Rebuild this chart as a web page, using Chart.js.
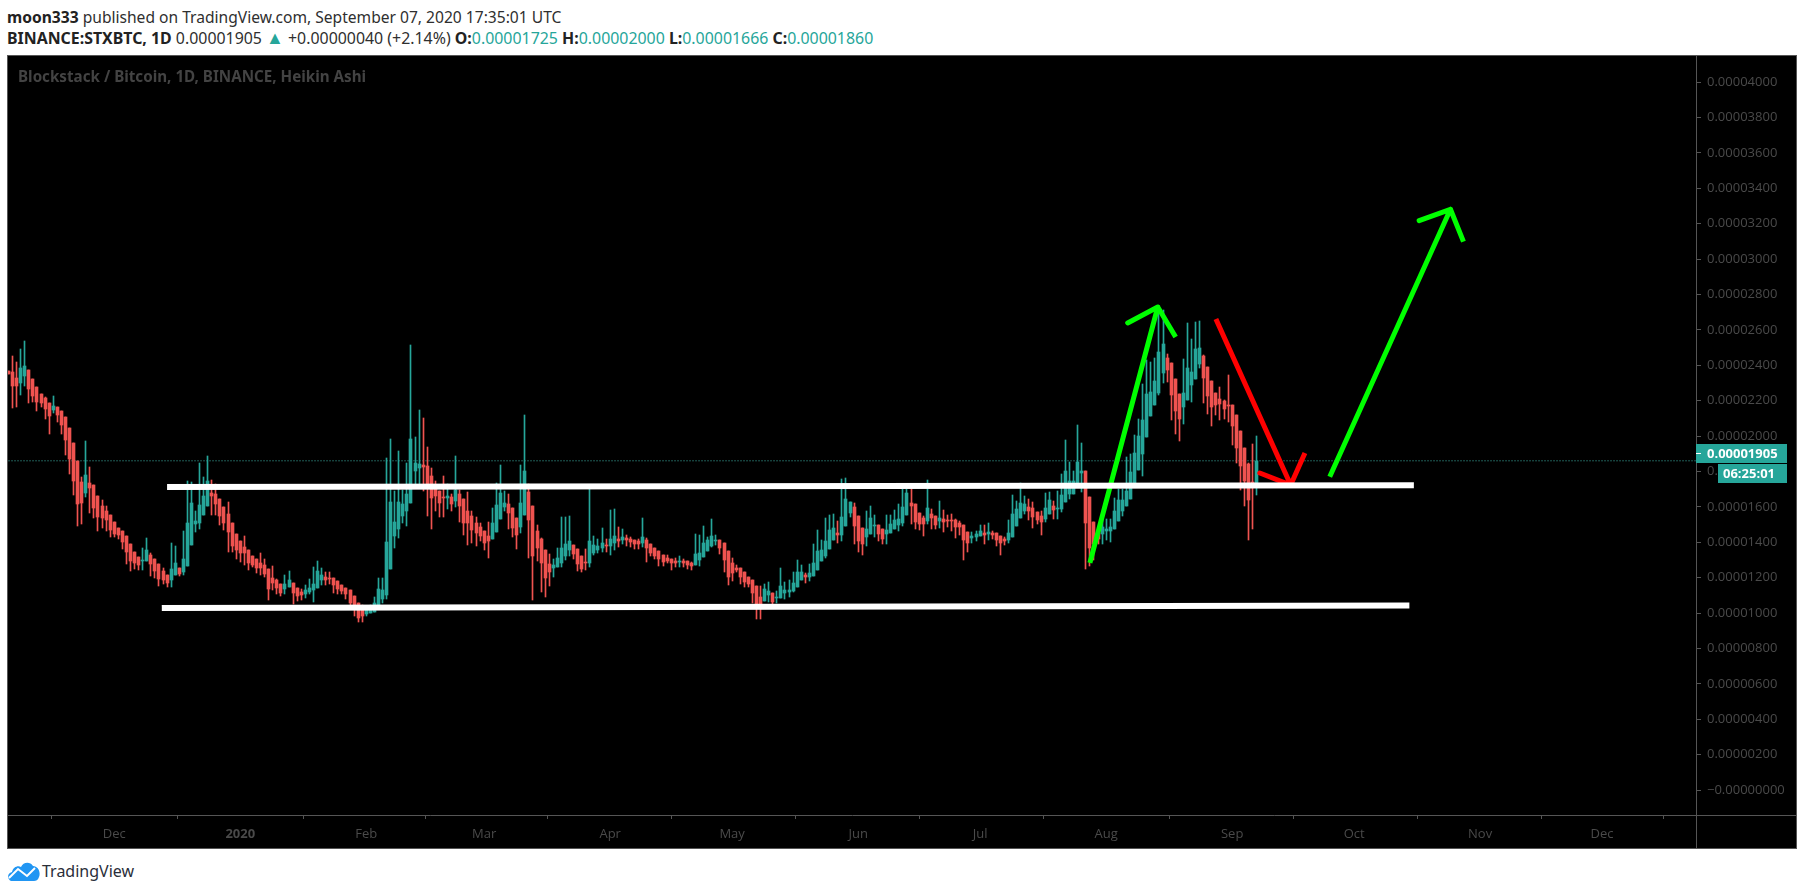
<!DOCTYPE html>
<html>
<head>
<meta charset="utf-8">
<script src="https://cdn.jsdelivr.net/npm/chart.js@4/dist/chart.umd.js"></script>
<style>
  html, body { margin: 0; padding: 0; background: #fff; width: 1805px; height: 895px; overflow: hidden; }
  body { font-family: "Noto Sans", sans-serif; color: #2f2f2f; position: relative; }
  .line { position: absolute; left: 7px; line-height: 20px; white-space: nowrap; }
  .line b { font-weight: 700; color: #222; }
  .up { color: #26a69a; }
  .tri { color: #26a69a; font-size: 18px; line-height: 16px; }
  #panel { position: absolute; left: 7px; top: 55px; width: 1788px; height: 792px; border: 1px solid #555; background: #000; }
  #watermark { position: absolute; left: 18px; top: 66px; font: bold 15.2px "Noto Sans", sans-serif; color: #434343; white-space: nowrap; }
  #brand { position: absolute; left: 42px; top: 859px; font-size: 16px; line-height: 24px; color: #2a2e39; }
  #logo { position: absolute; left: 8px; top: 862px; }
</style>
</head>
<body>
<div class="line" style="top:7px;font-size:15.6px"><b>moon333</b> published on TradingView.com, September 07, 2020 17:35:01 UTC</div>
<div class="line" style="top:28px;font-size:15.9px"><b>BINANCE:STXBTC, 1D</b> 0.00001905 <span class="tri">▲</span> +0.00000040 (+2.14%) <b>O:</b><span class="up">0.00001725</span> <b>H:</b><span class="up">0.00002000</span> <b>L:</b><span class="up">0.00001666</span> <b>C:</b><span class="up">0.00001860</span></div>
<div id="panel"><canvas id="chart" width="1788" height="792"></canvas></div>
<div id="watermark">Blockstack / Bitcoin, 1D, BINANCE, Heikin Ashi</div>
<svg id="logo" width="32" height="19" viewBox="0 0 32 19">
  <path d="M3 19C-1 17-1 11 4 10 5 5 10 3 13 5 15 0 22-1 25 4 30 4 33 10 31 15 30 18 28 19 26 19Z" fill="#2196f3"/>
  <polyline points="1,16 10,7 19,14 27,6" fill="none" stroke="#fff" stroke-width="2"/>
</svg>
<div id="brand">TradingView</div>

<script>
// prices are in units of 0.00000001 BTC, days are counted from 1 Jan 2020
const firstDay = -57;

const opens = [
  2367,2361,2327,2299,2339,2373,2322,2277,2237,2214,2186,2147,2164,2141,2107,2045,1960,1858,1740,1678,
  1734,1723,1661,1604,1576,1553,1514,1480,1463,1435,1390,1344,1316,1294,1294,1327,1305,1277,1237,1214,
  1186,1214,1254,1231,1265,1384,1503,1508,1553,1604,1678,1672,1644,1599,1559,1508,1446,1407,1373,1356,
  1322,1305,1282,1271,1248,1198,1186,1164,1135,1147,1169,1141,1118,1107,1118,1130,1141,1186,1203,1198,
  1198,1181,1158,1141,1130,1096,1056,1034,994,1000,1005,1034,1079,1102,1248,1435,1474,1548,1576,1621,
  1802,1819,1836,1830,1774,1717,1689,1655,1649,1655,1632,1672,1644,1576,1548,1508,1486,1463,1435,1418,
  1457,1531,1599,1616,1593,1536,1486,1553,1683,1604,1463,1418,1356,1277,1254,1260,1282,1322,1356,1384,
  1361,1322,1288,1282,1339,1356,1367,1384,1378,1395,1418,1412,1424,1418,1412,1407,1395,1412,1390,1367,
  1350,1327,1311,1305,1294,1288,1294,1294,1282,1271,1299,1316,1350,1378,1407,1412,1395,1350,1282,1254,
  1254,1231,1203,1186,1152,1090,1068,1102,1113,1085,1085,1113,1118,1124,1147,1186,1214,1203,1209,1243,
  1294,1322,1361,1412,1452,1440,1491,1565,1599,1548,1480,1429,1446,1491,1497,1474,1446,1452,1474,1497,
  1508,1553,1621,1615,1565,1536,1519,1559,1548,1519,1531,1525,1525,1525,1508,1497,1457,1423,1429,1435,
  1452,1446,1452,1452,1435,1418,1412,1429,1491,1536,1576,1599,1593,1570,1548,1531,1559,1604,1587,1587,
  1627,1672,1672,1734,1791,1803,1656,1514,1452,1447,1464,1464,1475,1520,1577,1605,1644,1729,1808,1899,
  1995,2113,2175,2243,2356,2441,2413,2322,2237,2164,2204,2288,2322,2407,2452,2390,2311,2243,2209,2198,
  2175,2175,2119,2028,1932,1842,1740,1725
];
const highs = [
  2367,2452,2418,2491,2536,2373,2322,2277,2237,2220,2186,2226,2164,2141,2107,2045,1960,1858,1768,1971,
  1825,1723,1661,1638,1604,1553,1514,1480,1463,1435,1390,1344,1316,1367,1424,1339,1305,1277,1254,1214,
  1395,1378,1254,1463,1745,1740,1576,1847,1768,1887,1751,1729,1644,1599,1627,1508,1446,1407,1435,1356,
  1322,1305,1339,1305,1248,1265,1192,1164,1214,1237,1169,1141,1135,1158,1192,1260,1294,1254,1231,1231,
  1198,1181,1158,1141,1130,1096,1056,1045,1026,1045,1090,1198,1198,1875,1983,1689,1915,1695,1847,2514,
  1994,2147,2101,1938,1819,1745,1689,1774,1729,1672,1887,1695,1644,1683,1576,1542,1508,1463,1514,1593,
  1734,1836,1689,1672,1593,1536,1836,2118,1729,1604,1497,1424,1356,1333,1305,1367,1542,1542,1548,1384,
  1361,1322,1361,1700,1435,1418,1480,1418,1582,1587,1486,1474,1440,1429,1412,1418,1536,1424,1390,1367,
  1350,1327,1327,1305,1311,1322,1305,1294,1288,1446,1440,1491,1429,1531,1440,1412,1395,1350,1311,1271,
  1254,1231,1203,1186,1152,1152,1164,1175,1113,1124,1254,1175,1186,1231,1299,1271,1226,1277,1390,1469,
  1412,1536,1553,1559,1519,1757,1762,1627,1621,1548,1480,1576,1604,1553,1497,1474,1553,1553,1582,1615,
  1700,1700,1700,1615,1565,1548,1751,1587,1548,1632,1582,1553,1559,1531,1519,1497,1457,1457,1463,1497,
  1497,1508,1463,1452,1435,1429,1525,1666,1632,1734,1661,1644,1627,1570,1576,1678,1683,1632,1689,1785,
  1977,1853,1802,2062,1960,1803,1656,1514,1473,1531,1531,1531,1650,1701,1701,1882,1899,2006,2096,2294,
  2430,2418,2441,2735,2712,2463,2413,2322,2237,2435,2639,2548,2644,2650,2458,2390,2311,2243,2277,2204,
  2345,2175,2119,2028,1932,1848,1955,2000
];
const lows = [
  2350,2158,2164,2231,2282,2186,2192,2141,2164,2096,2011,2130,2079,2011,1892,1785,1666,1491,1503,1655,
  1565,1536,1463,1480,1463,1429,1429,1418,1361,1277,1237,1248,1243,1243,1294,1209,1198,1152,1164,1147,
  1147,1214,1209,1214,1265,1384,1457,1474,1553,1604,1553,1553,1497,1469,1344,1344,1305,1288,1271,1243,
  1260,1226,1214,1203,1073,1130,1107,1096,1107,1147,1051,1068,1073,1085,1107,1062,1141,1158,1158,1164,
  1113,1107,1107,1079,1034,983,949,949,983,1000,1005,1034,1056,1079,1248,1367,1424,1508,1491,1621,
  1713,1713,1689,1548,1474,1576,1542,1542,1587,1576,1599,1514,1440,1384,1395,1378,1407,1356,1311,1418,
  1457,1531,1576,1474,1429,1361,1452,1553,1311,1073,1294,1118,1090,1152,1203,1260,1260,1299,1322,1305,
  1237,1231,1243,1260,1327,1339,1344,1344,1327,1356,1373,1390,1378,1373,1361,1361,1373,1288,1322,1305,
  1265,1265,1282,1243,1260,1260,1260,1248,1243,1271,1265,1316,1350,1373,1384,1333,1231,1158,1181,1231,
  1164,1147,1147,1056,966,966,1068,1062,1045,1056,1085,1079,1090,1118,1147,1186,1169,1181,1209,1243,
  1294,1310,1361,1412,1395,1406,1491,1542,1390,1344,1327,1378,1446,1429,1406,1390,1390,1452,1474,1463,
  1491,1553,1502,1474,1469,1435,1502,1474,1474,1480,1457,1486,1463,1423,1440,1299,1344,1395,1406,1435,
  1390,1412,1418,1378,1327,1384,1395,1429,1491,1536,1559,1525,1480,1502,1440,1514,1559,1531,1531,1570,
  1627,1644,1672,1734,1683,1249,1266,1300,1390,1390,1413,1401,1475,1520,1548,1605,1644,1729,1808,1774,
  1995,2113,2175,2232,2300,2305,2091,2012,1972,2068,2204,2192,2322,2384,2187,2125,2057,2119,2091,2096,
  2079,1949,1848,1695,1605,1413,1475,1666
];
const closes = [
  2350,2282,2282,2384,2395,2265,2226,2192,2186,2152,2113,2169,2118,2062,1977,1870,1745,1616,1621,1779,
  1706,1593,1542,1536,1525,1469,1446,1440,1401,1344,1294,1282,1271,1299,1356,1277,1237,1192,1186,1169,
  1248,1282,1220,1305,1508,1621,1520,1610,1661,1745,1661,1616,1548,1508,1457,1378,1356,1339,1339,1282,
  1271,1254,1254,1220,1135,1169,1141,1113,1164,1186,1113,1096,1102,1130,1141,1164,1237,1214,1186,1192,
  1158,1135,1124,1107,1056,1034,972,983,1017,1024,1056,1135,1130,1401,1627,1514,1627,1616,1672,1983,
  1847,1842,1825,1723,1649,1661,1621,1649,1661,1616,1695,1604,1508,1508,1469,1452,1435,1395,1407,1508,
  1610,1678,1621,1565,1480,1440,1621,1802,1525,1322,1367,1282,1198,1231,1271,1311,1367,1390,1407,1333,
  1277,1248,1282,1407,1384,1378,1395,1378,1418,1435,1407,1429,1412,1401,1390,1390,1429,1367,1339,1322,
  1305,1288,1294,1282,1282,1294,1282,1271,1265,1333,1339,1395,1412,1435,1412,1367,1299,1203,1226,1243,
  1203,1175,1164,1113,1045,1051,1135,1124,1062,1090,1152,1130,1130,1169,1231,1231,1203,1226,1282,1350,
  1356,1406,1469,1480,1440,1542,1644,1627,1491,1406,1390,1474,1536,1497,1446,1418,1469,1502,1525,1531,
  1599,1678,1604,1514,1502,1502,1593,1536,1497,1536,1514,1519,1519,1486,1486,1412,1395,1435,1446,1463,
  1440,1457,1440,1412,1395,1406,1452,1559,1587,1621,1615,1576,1542,1525,1514,1593,1638,1582,1593,1666,
  1802,1745,1745,1853,1802,1509,1368,1390,1417,1486,1475,1486,1577,1639,1639,1690,1797,1904,2000,2091,
  2237,2249,2311,2475,2520,2373,2232,2141,2096,2243,2384,2362,2492,2497,2328,2226,2164,2175,2181,2153,
  2170,2057,1932,1831,1746,1639,1710,1860
];

const lastPrice = 1905;
const lastClose = 1860;

const yTickValues = [0,200,400,600,800,1000,1200,1400,1600,1800,2000,2200,2400,2600,2800,3000,3200,3400,3600,3800,4000];
const monthDays = [-31,0,31,60,91,121,152,182,213,244,274,305,335];
const monthLabels = ['Dec','2020','Feb','Mar','Apr','May','Jun','Jul','Aug','Sep','Oct','Nov','Dec'];

// drawings on the chart, day then price
const topLineDays = [-18, 288.7];
const topLinePrices = [1712, 1722];
const bottomLineDays = [-19.3, 287.6];
const bottomLinePrices = [1028, 1042];
const arrow1Days = [209, 225.7, 218.3, 225.7, 230.1];
const arrow1Prices = [1283, 2729, 2639, 2729, 2559];
const arrow2Days = [240, 258.4, 250.8, 258.4, 261.9];
const arrow2Prices = [2661, 1723, 1791, 1723, 1904];
const arrow3Days = [268, 297.7, 290, 297.7, 300.9];
const arrow3Prices = [1770, 3281, 3217, 3281, 3098];

const green = '#26a69a';
const red = '#ef5350';
const axisGray = '#555555';
const textGray = '#4a4a4a';

const candleColors = opens.map((o, i) => closes[i] >= o ? green : red);
const pairUp = (xs, ys) => xs.map((x, i) => ({ x: x, y: ys[i] }));

function drawing(days, prices, color, width) {
  return {
    type: 'line',
    data: pairUp(days, prices),
    borderColor: color,
    borderWidth: width,
    borderJoinStyle: 'round',
    pointRadius: 0,
    tension: 0,
    order: 1,
  };
}

// snap candles to whole pixels so they stay sharp like the original
const snapCandles = {
  id: 'snapCandles',
  afterDatasetsUpdate(chart) {
    [0, 1].forEach((idx) => {
      chart.getDatasetMeta(idx).data.forEach((el) => {
        el.x = Math.floor(el.x) + 0.5;
        el.y = Math.round(el.y);
        el.base = Math.round(el.base);
      });
    });
  },
};

const priceBadges = {
  id: 'priceBadges',
  afterDraw(chart) {
    const ctx = chart.ctx;
    const area = chart.chartArea;
    const y = Math.round(chart.scales.y.getPixelForValue(lastPrice));
    ctx.save();
    // vertical axis carries on through the time axis, time axis through the price axis
    ctx.fillStyle = axisGray;
    ctx.fillRect(area.right, area.bottom, 1, chart.height - area.bottom);
    ctx.fillRect(area.right, area.bottom, chart.width - area.right, 1);

    ctx.fillStyle = green;
    ctx.fillRect(area.right, y - 9, 91, 19);
    ctx.fillRect(area.right + 22, y + 11, 69, 19);
    ctx.fillStyle = '#fff';
    ctx.fillRect(area.right, y, 5, 1);
    ctx.font = 'bold 13px "Open Sans"';
    ctx.textBaseline = 'middle';
    ctx.fillText((lastPrice / 1e8).toFixed(8), area.right + 11, y + 1);
    ctx.fillText('06:25:01', area.right + 27, y + 21);
    ctx.restore();
  },
};

new Chart(document.getElementById('chart'), {
  type: 'bar',
  data: {
    datasets: [
      {
        data: lows.map((l, i) => ({ x: firstDay + i, y: [l, highs[i]] })),
        backgroundColor: candleColors,
        barThickness: 1,
        order: 3,
      },
      {
        data: opens.map((o, i) => ({ x: firstDay + i, y: [o, closes[i]] })),
        backgroundColor: candleColors,
        barThickness: 3,
        minBarLength: 1,
        order: 2,
      },
      {
        type: 'line',
        data: [{ x: firstDay, y: lastClose }, { x: 358, y: lastClose }],
        borderColor: '#3fb8ab',
        borderWidth: 1,
        borderDash: [1, 2],
        pointRadius: 0,
        order: 4,
      },
      drawing(topLineDays, topLinePrices, '#ffffff', 6),
      drawing(bottomLineDays, bottomLinePrices, '#ffffff', 6),
      drawing(arrow1Days, arrow1Prices, '#00ff00', 5),
      drawing(arrow2Days, arrow2Prices, '#ff0000', 5),
      drawing(arrow3Days, arrow3Prices, '#00ff00', 5),
    ],
  },
  options: {
    responsive: false,
    animation: false,
    events: [],
    layout: { padding: 0 },
    datasets: { bar: { grouped: false, borderWidth: 0, borderSkipped: false } },
    plugins: { legend: { display: false }, tooltip: { enabled: false } },
    scales: {
      x: {
        type: 'linear',
        offset: false,
        min: -57.13,
        max: 358.1,
        afterBuildTicks: (scale) => { scale.ticks = monthDays.map((d) => ({ value: d })); },
        afterFit: (scale) => {
          scale.height = 33;
          scale.paddingLeft = 0;
          scale.paddingRight = 0;
        },
        grid: { drawOnChartArea: false, color: axisGray, tickLength: 4 },
        border: { color: axisGray },
        ticks: {
          autoSkip: false,
          maxRotation: 0,
          padding: 7,
          color: textGray,
          font: (ctx) => ({
            family: 'Open Sans',
            size: 13,
            weight: ctx.tick && ctx.tick.label === '2020' ? 'bold' : 'normal',
          }),
          callback: (value, index) => monthLabels[index],
        },
      },
      y: {
        position: 'right',
        min: -141,
        max: 4147,
        afterBuildTicks: (scale) => { scale.ticks = yTickValues.map((v) => ({ value: v })); },
        afterFit: (scale) => {
          scale.width = 100;
          scale.paddingTop = 0;
          scale.paddingBottom = 0;
        },
        grid: { drawOnChartArea: false, color: axisGray, tickLength: 5 },
        border: { color: axisGray },
        ticks: {
          padding: 6,
          color: textGray,
          font: { family: 'Open Sans', size: 13 },
          callback: (value) => (value === 0 ? '\u2212' : '') + (value / 1e8).toFixed(8),
        },
      },
    },
  },
  plugins: [snapCandles, priceBadges],
});
</script>
</body>
</html>
